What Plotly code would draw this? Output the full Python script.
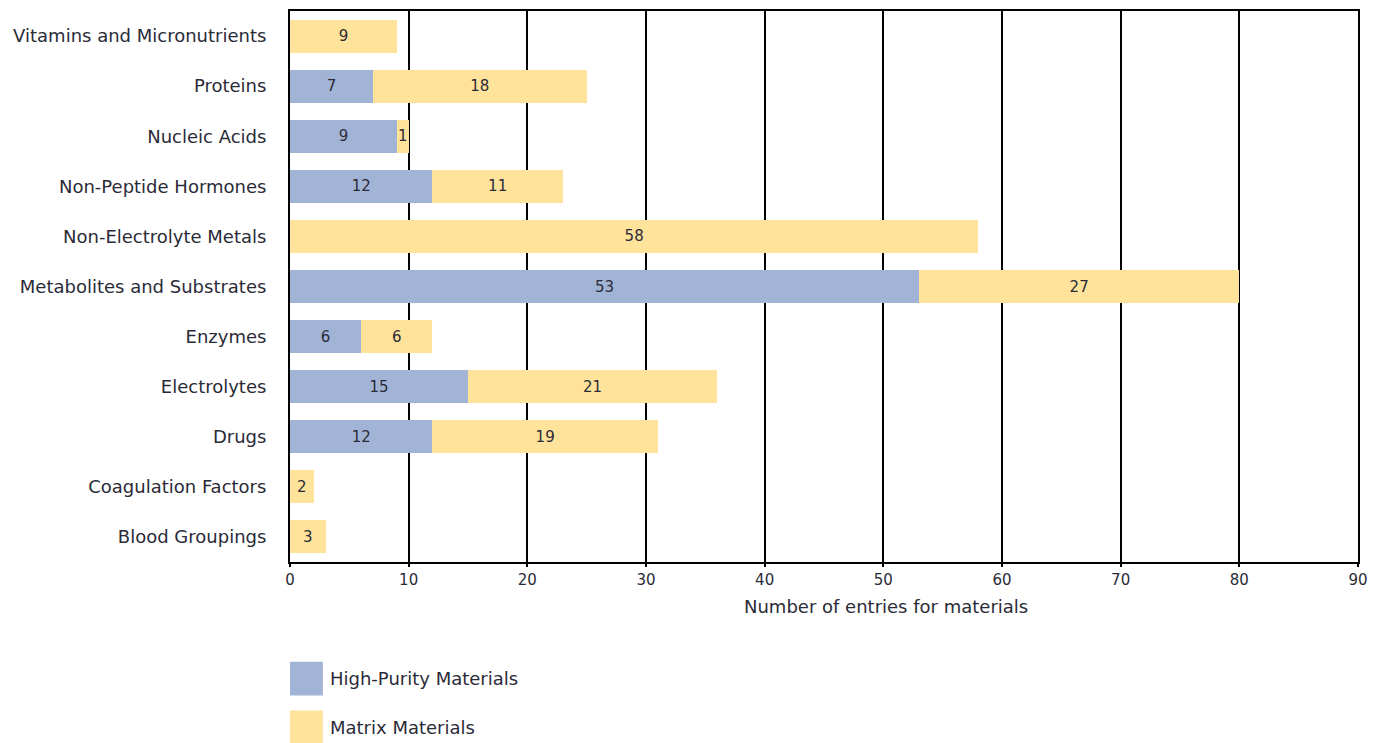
import plotly.graph_objects as go

categories = [
    "Vitamins and Micronutrients",
    "Proteins",
    "Nucleic Acids",
    "Non-Peptide Hormones",
    "Non-Electrolyte Metals",
    "Metabolites and Substrates",
    "Enzymes",
    "Electrolytes",
    "Drugs",
    "Coagulation Factors",
    "Blood Groupings",
]
high_purity = [0, 7, 9, 12, 0, 53, 6, 15, 12, 0, 0]
matrix = [9, 18, 1, 11, 58, 27, 6, 21, 19, 2, 3]
series_names = ["High-Purity Materials", "Matrix Materials"]
x_ticks = [0, 10, 20, 30, 40, 50, 60, 70, 80, 90]
x_title = "Number of entries for materials"

BLUE = "#A2B4D6"
YELLOW = "#FFE39B"
TEXT = "#2b2b38"
FONT = "DejaVu Sans"

# plot area in pixels
L, R, T, B = 290, 15, 9, 181
W, H = 1377, 743
PW, PH = W - L - R, H - T - B


def labels(vals):
    return [str(v) if v else "" for v in vals]


def py(pixel_y):
    """Convert a page y pixel to paper coordinates."""
    return -(pixel_y - (T + PH)) / PH


fig = go.Figure()
for name, vals, color in [(series_names[0], high_purity, BLUE),
                          (series_names[1], matrix, YELLOW)]:
    fig.add_trace(go.Bar(
        y=categories, x=vals, name=name, orientation="h",
        marker=dict(color=color, line=dict(width=0)),
        text=labels(vals), textposition="inside", insidetextanchor="middle",
        textfont=dict(family=FONT, size=15, color=TEXT),
        constraintext="none", cliponaxis=False, showlegend=False,
    ))

fig.update_layout(
    barmode="stack",
    bargap=0.34,
    width=W, height=H,
    margin=dict(l=L, r=R, t=T, b=B),
    plot_bgcolor="white", paper_bgcolor="white",
    font=dict(family=FONT, size=18, color=TEXT),
    uniformtext=dict(minsize=8, mode="show"),
)
fig.update_xaxes(
    range=[0, 90], tickvals=x_ticks, ticktext=[str(t) for t in x_ticks],
    showgrid=True, gridcolor="black", gridwidth=1.5,
    showline=True, linecolor="black", linewidth=2, mirror=True,
    ticks="outside", ticklen=3, tickcolor="black", tickwidth=1.5,
    tickfont=dict(size=15, color=TEXT),
    zeroline=False, layer="below traces",
)
fig.update_yaxes(
    autorange="reversed", showgrid=False,
    showline=True, linecolor="black", linewidth=2, mirror=True,
    ticks="", ticklabelstandoff=18,
    tickfont=dict(size=18, color=TEXT),
)

# x-axis title
fig.add_annotation(xref="paper", yref="paper", x=(888 - L) / PW, y=py(607),
                   text=x_title, showarrow=False, xanchor="center", yanchor="middle",
                   font=dict(family=FONT, size=18, color=TEXT))

# legend drawn as swatches with labels below the plot
legend_items = [(series_names[0], BLUE, 679), (series_names[1], YELLOW, 728)]
for name, color, yc in legend_items:
    fig.add_shape(type="rect", xref="paper", yref="paper",
                  x0=0, x1=33 / PW, y0=py(yc + 17), y1=py(yc - 17),
                  fillcolor=color, line=dict(width=0))
    fig.add_annotation(xref="paper", yref="paper", x=38 / PW, y=py(yc),
                       text=name, showarrow=False, xanchor="left", yanchor="middle",
                       font=dict(family=FONT, size=18, color=TEXT))

fig.write_html("out.html")
